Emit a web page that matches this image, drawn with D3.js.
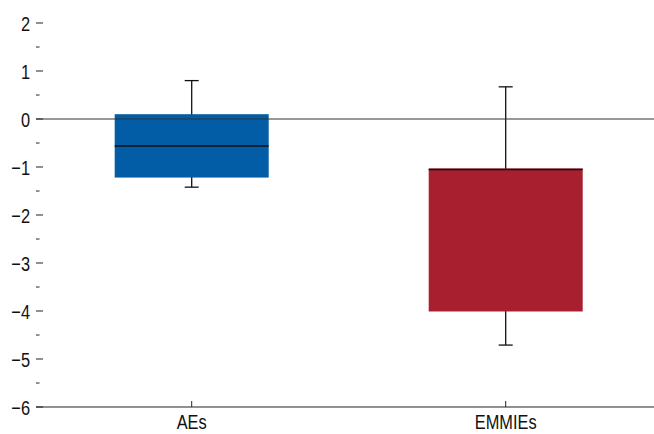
<!DOCTYPE html>
<html><head><meta charset="utf-8">
<script src="https://cdn.jsdelivr.net/npm/d3@7"></script>
<style>body{margin:0;background:#fff}svg{display:block}</style>
</head><body>
<script>
const categories = ["AEs", "EMMIEs"];
const q1 = [-1.22, -4.01];
const median = [-0.56, -1.05];
const q3 = [0.1, -1.03];
const whiskerLow = [-1.42, -4.71];
const whiskerHigh = [0.8, 0.67];
const colors = ["#035ca6", "#a81f2f"];
const yTicks = [2, 1, 0, -1, -2, -3, -4, -5, -6];
const yMinorTicks = [1.5, 0.5, -0.5, -1.5, -2.5, -3.5, -4.5, -5.5];

const W = 654, H = 434;
const svg = d3.select("body").append("svg").attr("width", W).attr("height", H);
const font = "'Liberation Sans', Arial, sans-serif";
const sx = 0.78;

const y = d3.scaleLinear().domain([-6, 2]).range([407, 23]);
const x = d3.scalePoint().domain(categories).range([34.7, 662.7]).padding(0.5);
const boxW = 154, capW = 14;

// y axis ticks (no domain line)
const gy = svg.append("g").attr("transform", "translate(36,0)");
gy.selectAll("line.maj").data(yTicks).join("line")
  .attr("x1", 0).attr("x2", 7).attr("y1", d => y(d)).attr("y2", d => y(d))
  .attr("stroke", "#222").attr("stroke-width", 1);
gy.selectAll("line.min").data(yMinorTicks).join("line")
  .attr("x1", 0).attr("x2", 3.5).attr("y1", d => y(d)).attr("y2", d => y(d))
  .attr("stroke", "#222").attr("stroke-width", 1);
gy.selectAll("text").data(yTicks).join("text")
  .attr("transform", d => `translate(-6,${y(d)}) scale(${sx},1)`)
  .attr("dy", "0.36em")
  .attr("text-anchor", "end").attr("font-family", font).attr("font-size", 21)
  .attr("fill", "#111")
  .text(d => d < 0 ? "\u2212" + Math.abs(d) : d);

// boxes
const data = categories.map((c, i) => ({c, i}));
const g = svg.append("g");
g.selectAll("line.wh").data(data).join("line")
  .attr("x1", d => x(d.c)).attr("x2", d => x(d.c))
  .attr("y1", d => y(whiskerHigh[d.i])).attr("y2", d => y(whiskerLow[d.i]))
  .attr("stroke", "#111").attr("stroke-width", 1.3);
g.selectAll("line.capH").data(data).join("line")
  .attr("x1", d => x(d.c) - capW/2).attr("x2", d => x(d.c) + capW/2)
  .attr("y1", d => y(whiskerHigh[d.i])).attr("y2", d => y(whiskerHigh[d.i]))
  .attr("stroke", "#111").attr("stroke-width", 1.3);
g.selectAll("line.capL").data(data).join("line")
  .attr("x1", d => x(d.c) - capW/2).attr("x2", d => x(d.c) + capW/2)
  .attr("y1", d => y(whiskerLow[d.i])).attr("y2", d => y(whiskerLow[d.i]))
  .attr("stroke", "#111").attr("stroke-width", 1.3);
g.selectAll("rect").data(data).join("rect")
  .attr("x", d => x(d.c) - boxW/2).attr("width", boxW)
  .attr("y", d => y(q3[d.i])).attr("height", d => y(q1[d.i]) - y(q3[d.i]))
  .attr("fill", d => colors[d.i]);
g.selectAll("line.med").data(data).join("line")
  .attr("x1", d => x(d.c) - boxW/2).attr("x2", d => x(d.c) + boxW/2)
  .attr("y1", d => y(median[d.i])).attr("y2", d => y(median[d.i]))
  .attr("stroke", "#111").attr("stroke-width", 1.5);

// zero line
svg.append("line").attr("x1", 36).attr("x2", W).attr("y1", y(0)).attr("y2", y(0))
  .attr("stroke", "#333").attr("stroke-width", 1.2);

// x axis
const gx = svg.append("g");
gx.append("line").attr("x1", 36).attr("x2", W).attr("y1", y(-6)).attr("y2", y(-6))
  .attr("stroke", "#222").attr("stroke-width", 1.2);
gx.selectAll("line.t").data(categories).join("line")
  .attr("x1", d => x(d)).attr("x2", d => x(d)).attr("y1", y(-6) - 6).attr("y2", y(-6))
  .attr("stroke", "#222").attr("stroke-width", 1);
gx.selectAll("text").data(categories).join("text")
  .attr("transform", d => `translate(${x(d)},429) scale(${sx},1)`)
  .attr("text-anchor", "middle").attr("font-family", font).attr("font-size", 21)
  .attr("fill", "#111").text(d => d);
</script>
</body></html>
